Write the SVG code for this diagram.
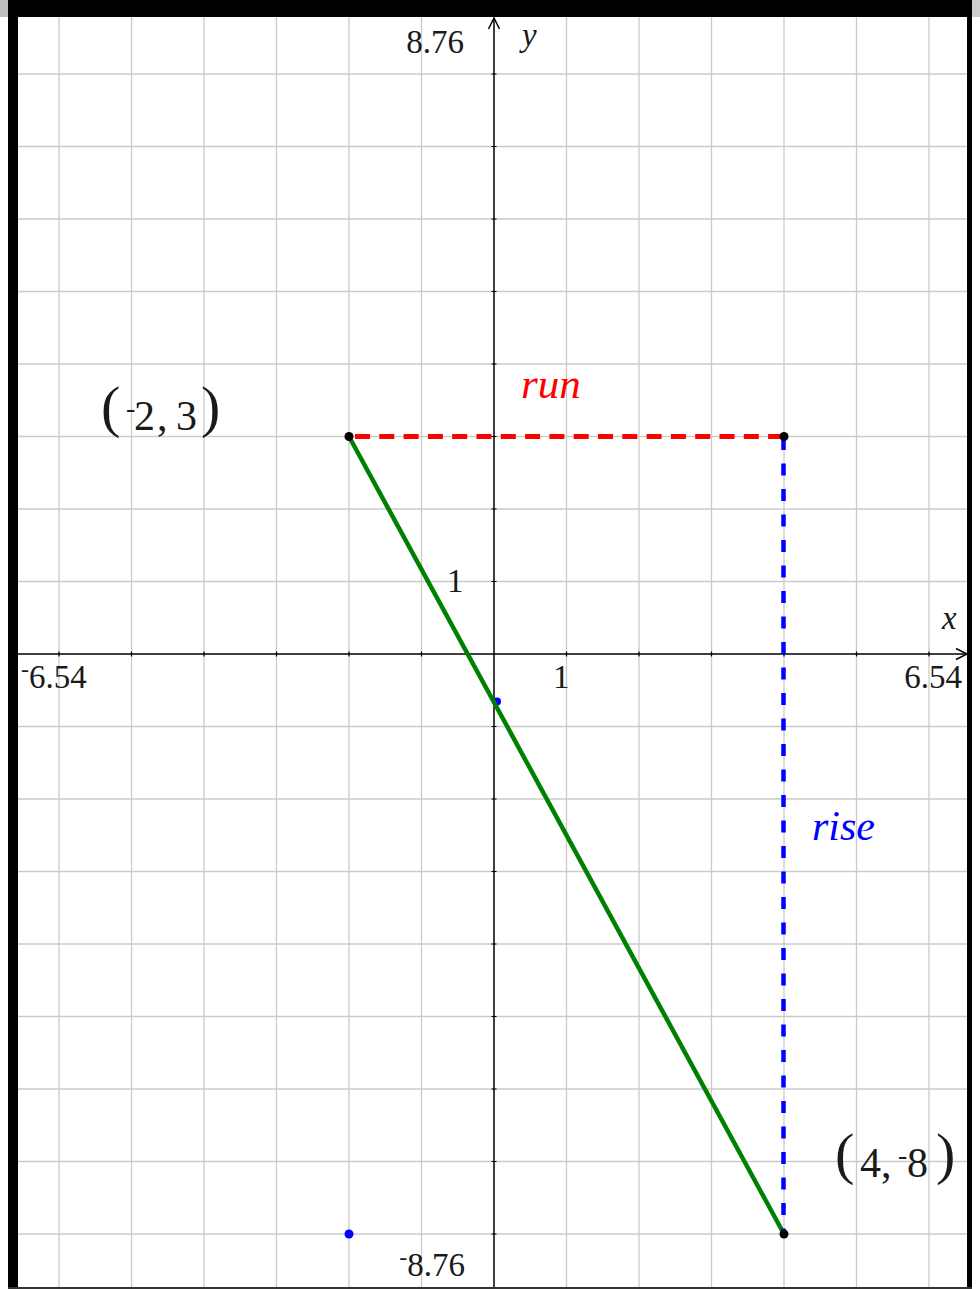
<svg xmlns="http://www.w3.org/2000/svg" width="980" height="1289" viewBox="0 0 980 1289">
<style>
.grid{stroke:#cbcbcb;stroke-width:1.3;fill:none}
.axis{stroke:#000;stroke-width:1.5;fill:none}
.tick{stroke:#000;stroke-width:1.2;fill:none}
.lbl{font-family:"Liberation Serif","Times New Roman",serif;font-size:33px;fill:#1a1a1a}
.it{font-style:italic}
.sup{font-size:24px}
.pt{font-family:"Liberation Serif","Times New Roman",serif;font-size:42px;fill:#1a1a1a}
.par{font-size:58px}
.sup2{font-size:28px}
.dot{fill:#000}
.bdot{fill:#0000ff}
</style>
<rect x="0" y="0" width="980" height="1289" fill="#ffffff"/>
<g id="grid">
<path class="grid" d="M59 17V1289M131.5 17V1289M204 17V1289M276.5 17V1289M349 17V1289M421.5 17V1289M566.5 17V1289M639 17V1289M711.5 17V1289M784 17V1289M856.5 17V1289M929 17V1289"/>
<path class="grid" d="M18 74H967M18 146.5H967M18 219H967M18 291.5H967M18 364H967M18 436.5H967M18 509H967M18 581.5H967M18 726.5H967M18 799H967M18 871.5H967M18 944H967M18 1016.5H967M18 1089H967M18 1161.5H967M18 1234H967"/>
</g>
<g id="axes">
<path class="axis" d="M18 654H966M494 19V1289"/>
<polyline class="axis" points="956,648.5 967,654 956,659.5"/>
<polyline class="axis" points="488.5,29 494,18 499.5,29"/>
<path class="tick" d="M59 651.5v5M131.5 651.5v5M204 651.5v5M276.5 651.5v5M349 651.5v5M421.5 651.5v5M566.5 651.5v5M639 651.5v5M711.5 651.5v5M784 651.5v5M856.5 651.5v5M929 651.5v5"/>
<path class="tick" d="M491.5 74h5M491.5 146.5h5M491.5 219h5M491.5 291.5h5M491.5 364h5M491.5 436.5h5M491.5 509h5M491.5 581.5h5M491.5 726.5h5M491.5 799h5M491.5 871.5h5M491.5 944h5M491.5 1016.5h5M491.5 1089h5M491.5 1161.5h5M491.5 1234h5"/>
</g>
<g id="axis-labels">
<text class="lbl" x="464" y="53" text-anchor="end">8.76</text>
<text class="lbl it" x="522" y="46">y</text>
<text class="lbl it" x="942" y="629">x</text>
<text class="lbl" x="21" y="688"><tspan class="sup" dy="-11">-</tspan><tspan dy="11">6.54</tspan></text>
<text class="lbl" x="962" y="688" text-anchor="end">6.54</text>
<text class="lbl" x="553" y="688">1</text>
<text class="lbl" x="447" y="592">1</text>
<text class="lbl" x="465" y="1276" text-anchor="end"><tspan class="sup" dy="-11">-</tspan><tspan dy="11">8.76</tspan></text>
</g>
<g id="intercept">
<circle class="bdot" cx="497" cy="701.5" r="4"/>
</g>
<g id="connectors">
<line id="segment" x1="349" y1="436.5" x2="784" y2="1234" stroke="#008000" stroke-width="4.5"/>
<line id="run-line" x1="355" y1="436.5" x2="780" y2="436.5" stroke="#ff0000" stroke-width="5" stroke-dasharray="15 9.3"/>
<line id="rise-line" x1="783.5" y1="438" x2="783.5" y2="1230" stroke="#0000ff" stroke-width="4.5" stroke-dasharray="12 13.5"/>
</g>
<g id="point-a">
<circle class="dot" cx="349" cy="436.5" r="4.5"/>
<text class="pt"><tspan class="par" x="101" y="426">(</tspan><tspan class="sup2" x="126" y="417">-</tspan><tspan x="134" y="430">2</tspan><tspan x="157" y="430">,</tspan><tspan x="176" y="430">3</tspan><tspan class="par" x="201" y="426">)</tspan></text>
</g>
<g id="point-corner">
<circle class="dot" cx="784" cy="436.5" r="4.5"/>
</g>
<g id="point-b">
<circle class="dot" cx="784" cy="1234" r="4.5"/>
<text class="pt"><tspan class="par" x="835" y="1173">(</tspan><tspan x="860" y="1177">4</tspan><tspan x="881" y="1177">,</tspan><tspan class="sup2" x="898" y="1164">-</tspan><tspan x="907" y="1177">8</tspan><tspan class="par" x="936" y="1173">)</tspan></text>
</g>
<g id="point-c">
<circle class="bdot" cx="349" cy="1234" r="4.5"/>
</g>
<g id="run-label">
<text class="pt it" x="521" y="398" style="fill:#ff0000;font-size:43px">run</text>
</g>
<g id="rise-label">
<text class="pt it" x="812" y="840" style="fill:#0000ff;font-size:42px">rise</text>
</g>
<g id="frame">
<rect x="0" y="0" width="8" height="17" fill="#bdbdbd"/>
<rect x="972" y="0" width="8" height="17" fill="#cfcfcf"/>
<rect x="8" y="0" width="964" height="17" fill="#000"/>
<rect x="8" y="0" width="10" height="1289" fill="#000"/>
<rect x="967" y="0" width="5" height="1289" fill="#000"/>
<rect x="8" y="1287" width="964" height="2" fill="#333"/>
</g>
</svg>
